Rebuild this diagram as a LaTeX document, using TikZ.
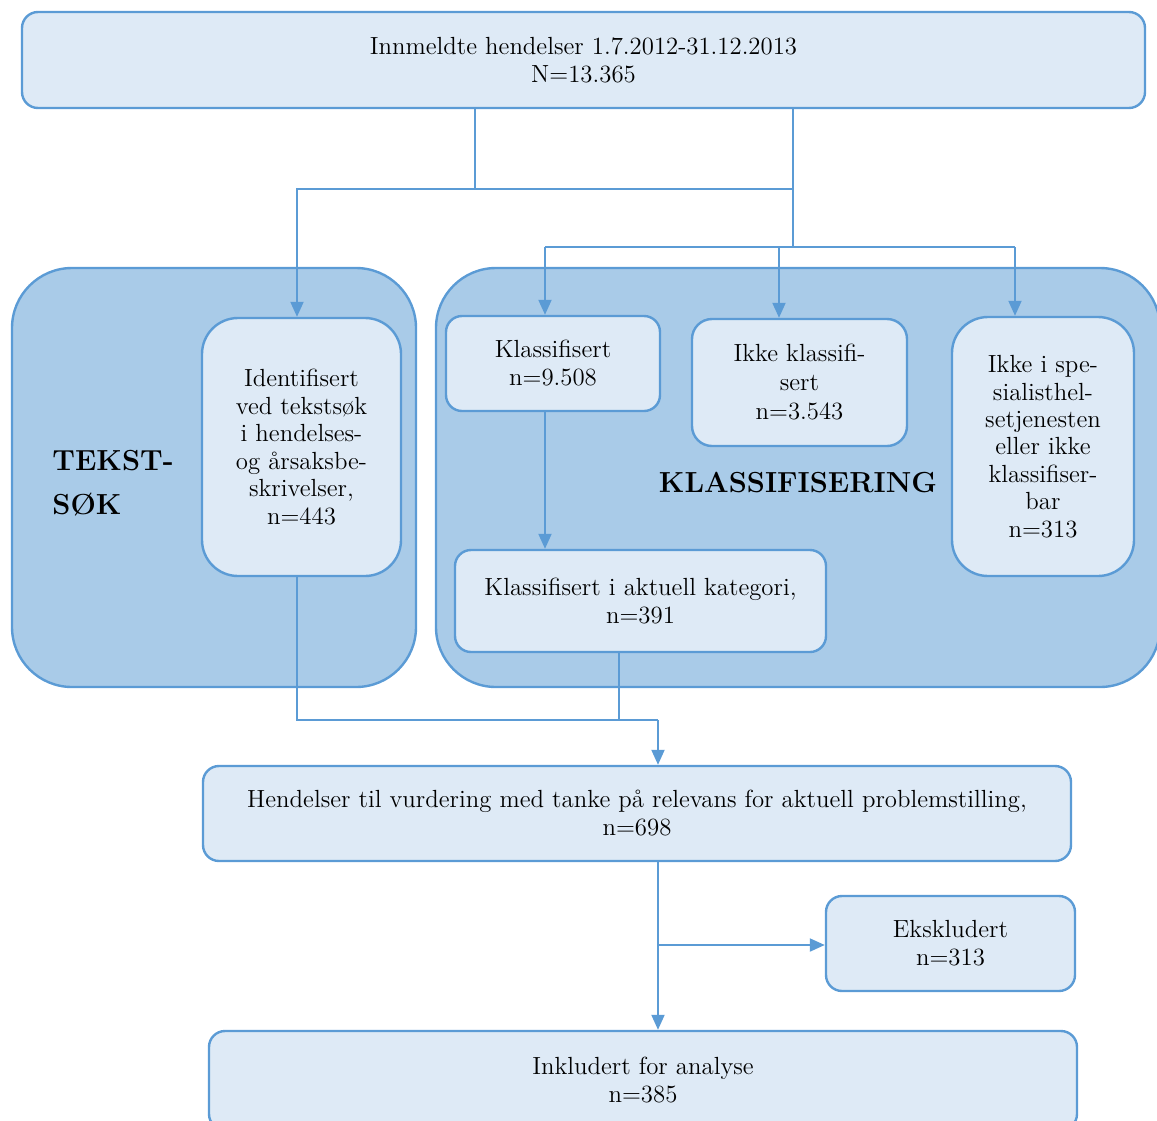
\documentclass[tikz,border=0pt]{standalone}
\usetikzlibrary{arrows.meta}
\definecolor{rim}{HTML}{5B9BD5}
\definecolor{pale}{HTML}{DEEAF6}
\definecolor{group}{HTML}{A9CBE8}
\begin{document}
\begin{tikzpicture}[x=0.5pt,y=-0.5pt,
    font=\fontsize{12.4}{14}\selectfont,
    box/.style={draw=rim,fill=pale,line width=1.2pt,rounded corners=8pt,align=center,inner sep=0pt},
    grp/.style={draw=rim,fill=group,line width=1.2pt,rounded corners=30pt,inner sep=0pt},
    conn/.style={draw=rim,line width=1pt},
    arr/.style={conn,-{Triangle[length=7.5pt,width=6.5pt]}},
    big/.style={font=\fontsize{14.5}{22}\selectfont\bfseries,align=left,inner sep=0pt}]
    \useasboundingbox (0,0) rectangle (1157,1120);

    % groups
    \node[grp,minimum width=202pt,minimum height=209.5pt] (tekstgrp) at (214,477.5) {};
    \node[grp,minimum width=362pt,minimum height=209.5pt] (klassgrp) at (798,477.5) {};
    \node[big,anchor=west] (tekstlbl) at (52,483) {TEKST-\\SØK};
    \node[big] (klasslbl) at (798,483) {KLASSIFISERING};

    % boxes
    \node[box,minimum width=561.5pt,minimum height=48pt] (top) at (583.5,60)
        {Innmeldte hendelser 1.7.2012-31.12.2013\\N=13.365};
    \node[box,rounded corners=18pt,minimum width=99.5pt,minimum height=129pt,font=\fontsize{12.4}{13.75}\selectfont] (ident) at (301.5,447)
        {Identifisert\\ved tekstsøk\\i hendelses-\\og årsaksbe-\\skrivelser,\\n=443};
    \node[box,minimum width=107pt,minimum height=47.5pt] (klass) at (553,363.5)
        {Klassifisert\\n=9.508};
    \node[box,rounded corners=10pt,minimum width=107.5pt,minimum height=63.5pt,font=\fontsize{12.4}{14.5}\selectfont] (ikke) at (799.5,382.5)
        {Ikke klassifi-\\sert\\n=3.543};
    \node[box,rounded corners=18pt,minimum width=91pt,minimum height=129.5pt,font=\fontsize{12.4}{13.7}\selectfont] (spes) at (1043,446.5)
        {Ikke i spe-\\sialisthel-\\setjenesten\\eller ikke\\klassifiser-\\bar\\n=313};
    \node[box,minimum width=185.5pt,minimum height=51pt] (aktuell) at (640.5,601)
        {Klassifisert i aktuell kategori,\\n=391};
    \node[box,minimum width=434pt,minimum height=47.5pt] (hend) at (637,813.5)
        {Hendelser til vurdering med tanke på relevans for aktuell problemstilling,\\n=698};
    \node[box,minimum width=124.5pt,minimum height=47.5pt] (eks) at (950.5,943.5)
        {Ekskludert\\n=313};
    \node[box,minimum width=434pt,minimum height=49.5pt] (inkl) at (643,1080.5)
        {Inkludert for analyse\\n=385};

    % connectors from the top
    \coordinate (jl) at (475,189);
    \coordinate (jr) at (793,247);
    \coordinate (dl) at (297,189);
    \coordinate (d1) at (545,247);
    \coordinate (d2) at (779,247);
    \coordinate (d3) at (1015,247);
    \draw[conn] (top.south -| jl) -- (jl) -- (jl -| jr);
    \draw[arr] (jl) -- (dl) -- (dl |- ident.north);
    \draw[conn] (top.south -| jr) -- (jr);
    \draw[conn] (d1) -- (d3);
    \draw[arr] (d1) -- (d1 |- klass.north);
    \draw[arr] (d2) -- (d2 |- ikke.north);
    \draw[arr] (d3) -- (d3 |- spes.north);
    \draw[arr] (klass.south -| d1) -- (d1 |- aktuell.north);

    % connectors to the bottom
    \coordinate (m) at (658,720);
    \coordinate (m2) at (619,720);
    \coordinate (e) at (658,945);
    \draw[conn] (ident.south -| dl) |- (m);
    \draw[conn] (aktuell.south -| m2) -- (m2);
    \draw[arr] (m) -- (m |- hend.north);
    \draw[arr] (hend.south -| m) -- (m |- inkl.north);
    \draw[arr] (e) -- (eks.west |- e);
\end{tikzpicture}
\end{document}
